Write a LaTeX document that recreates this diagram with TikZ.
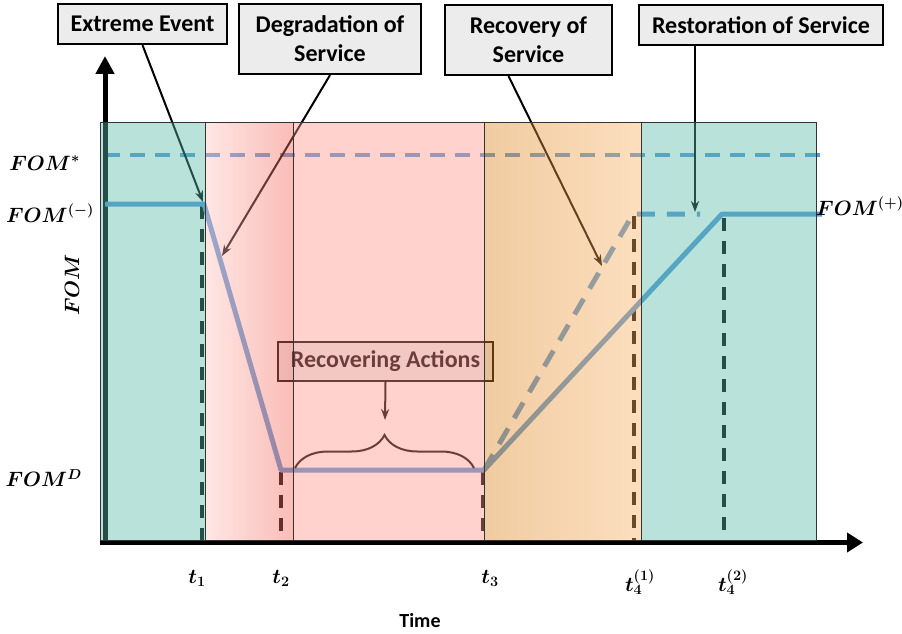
\documentclass[tikz,border=0pt]{standalone}
\usepackage{fontspec}
\setmainfont{Carlito}
\usetikzlibrary{arrows.meta,decorations.pathreplacing}

\definecolor{fomblue}{RGB}{85,150,215}
\definecolor{pgreen}{RGB}{88,186,167}
\definecolor{ppinkL}{RGB}{255,198,193}
\definecolor{ppinkR}{RGB}{245,98,83}
\definecolor{ppink}{RGB}{255,150,140}
\definecolor{porangeL}{RGB}{221,133,31}
\definecolor{porangeR}{RGB}{250,179,102}
\definecolor{boxgray}{RGB}{236,236,236}

\tikzset{
  labelbox/.style={draw=black, line width=2.2pt, fill=boxgray, inner sep=0pt,
    align=center, font=\fontsize{24}{29}\selectfont\bfseries},
  fomlabel/.style={inner sep=0pt, font=\fontsize{22}{26}\selectfont\boldmath},
  fomline/.style={fomblue, line width=5pt, line join=round},
  tline/.style={black, line width=4pt, dash pattern=on 13pt off 10pt},
  callout/.style={-{Stealth[length=11pt,width=8pt]}, line width=2pt},
  panel/.style={fill opacity=0.42, draw=black!80, line width=1pt},
}

\begin{document}
\begin{tikzpicture}[x=1pt,y=-1pt]
\useasboundingbox[fill=white] (0,0) rectangle (902,634);

% key points of the figure-of-merit curve
\coordinate (p0) at (105,204);
\coordinate (p1) at (204,204);
\coordinate (p2) at (281,470);
\coordinate (p3) at (484,470);
\coordinate (p4) at (722,214);
\coordinate (p5) at (822,214);
\coordinate (q4) at (633,214);
\coordinate (q5) at (700,214);

% target level
\coordinate (s0) at (105,155);
\coordinate (s1) at (822,155);
\draw[fomblue, line width=4pt, dash pattern=on 15pt off 10pt] (s0) -- (s1);

% axes
\coordinate (o) at (105,545);
\coordinate (ytop) at (105,56);
\coordinate (xo) at (100,542.5);
\coordinate (xend) at (863,542.5);
\draw[line width=5pt, -{Triangle[length=18pt,width=18pt]}] (o) -- (ytop);
\draw[line width=5pt, -{Triangle[length=16pt,width=19pt]}] (xo) -- (xend);

% time markers
\coordinate (b1) at (202,540); \coordinate (a1) at (202,206);
\coordinate (b2) at (281,540); \coordinate (a2) at (281,472);
\coordinate (b3) at (483,540); \coordinate (a3) at (483,472);
\coordinate (b4) at (634,540); \coordinate (a4) at (634,216);
\coordinate (b5) at (724,540); \coordinate (a5) at (724,218);
\foreach \i in {1,...,5} \draw[tline] (a\i) -- (b\i);

% figure-of-merit curves
\draw[fomline] (p0) -- (p1) -- (p2) -- (p3) -- (p4) -- (p5);
\draw[fomline, dash pattern=on 18pt off 12pt] (p3) -- (q4) -- (q5);

% recovering actions
\node[labelbox, line width=2pt, minimum width=215pt, minimum height=39pt] (ra) at (385.5,361.5) {Recovering Actions};
\coordinate (brtip) at (385,420);
\draw[callout] (ra.south) -- (brtip);
\coordinate (br0) at (295,468);
\coordinate (br1) at (474,468);
\draw[decorate, decoration={brace, amplitude=33pt}, line width=2pt] (br0) -- (br1);

% callouts
\node[labelbox, minimum width=169pt, minimum height=40pt] (ee) at (142.5,24) {Extreme Event};
\node[labelbox, minimum width=182pt, minimum height=70pt] (dg) at (330,39) {Degradation of\\Service};
\node[labelbox, minimum width=167pt, minimum height=70pt] (rc) at (528.5,40) {Recovery of\\Service};
\node[labelbox, minimum width=244pt, minimum height=40pt] (rs) at (761,25) {Restoration of Service};

\coordinate (eeT) at (203,202);
\coordinate (dgT) at (222,256);
\coordinate (rcT) at (602,266);
\coordinate (rsT) at (695,212);
\draw[callout] (ee.south) -- (eeT);
\draw[callout] (dg.south) -- (dgT);
\draw[callout] ([xshift=-20pt]rc.south) -- (rcT);
\draw[callout] ([xshift=-66pt]rs.south) -- (rsT);

% phase panels
\fill[pgreen, panel] (100,122) rectangle (205,540);
\shade[left color=ppinkL, right color=ppinkR, panel] (205,122) rectangle (293,540);
\fill[ppink, panel] (293,122) rectangle (484,540);
\shade[left color=porangeL, right color=porangeR, panel] (484,122) rectangle (641,540);
\fill[pgreen, panel] (641,122) rectangle (816,540);

% level labels
\node[fomlabel, anchor=east] (lstar) at (80,163) {$FOM^*$};
\node[fomlabel, anchor=east] (lminus) at (94,213) {$FOM^{(-)}$};
\node[fomlabel, rotate=90] (lfom) at (72,285) {$FOM$};
\node[fomlabel, anchor=east] (ld) at (82,478) {$FOM^D$};
\node[fomlabel, anchor=west] (lplus) at (816,206) {$FOM^{(+)}$};

% time labels
\node[fomlabel] (t1) at (197,578) {$t_1$};
\node[fomlabel] (t2) at (281,578) {$t_2$};
\node[fomlabel] (t3) at (490,578) {$t_3$};
\node[fomlabel] (t4a) at (640,582) {$t_4^{(1)}$};
\node[fomlabel] (t4b) at (733,582) {$t_4^{(2)}$};
\node[font=\fontsize{20}{24}\selectfont\bfseries] (time) at (420,621) {Time};
\end{tikzpicture}
\end{document}
